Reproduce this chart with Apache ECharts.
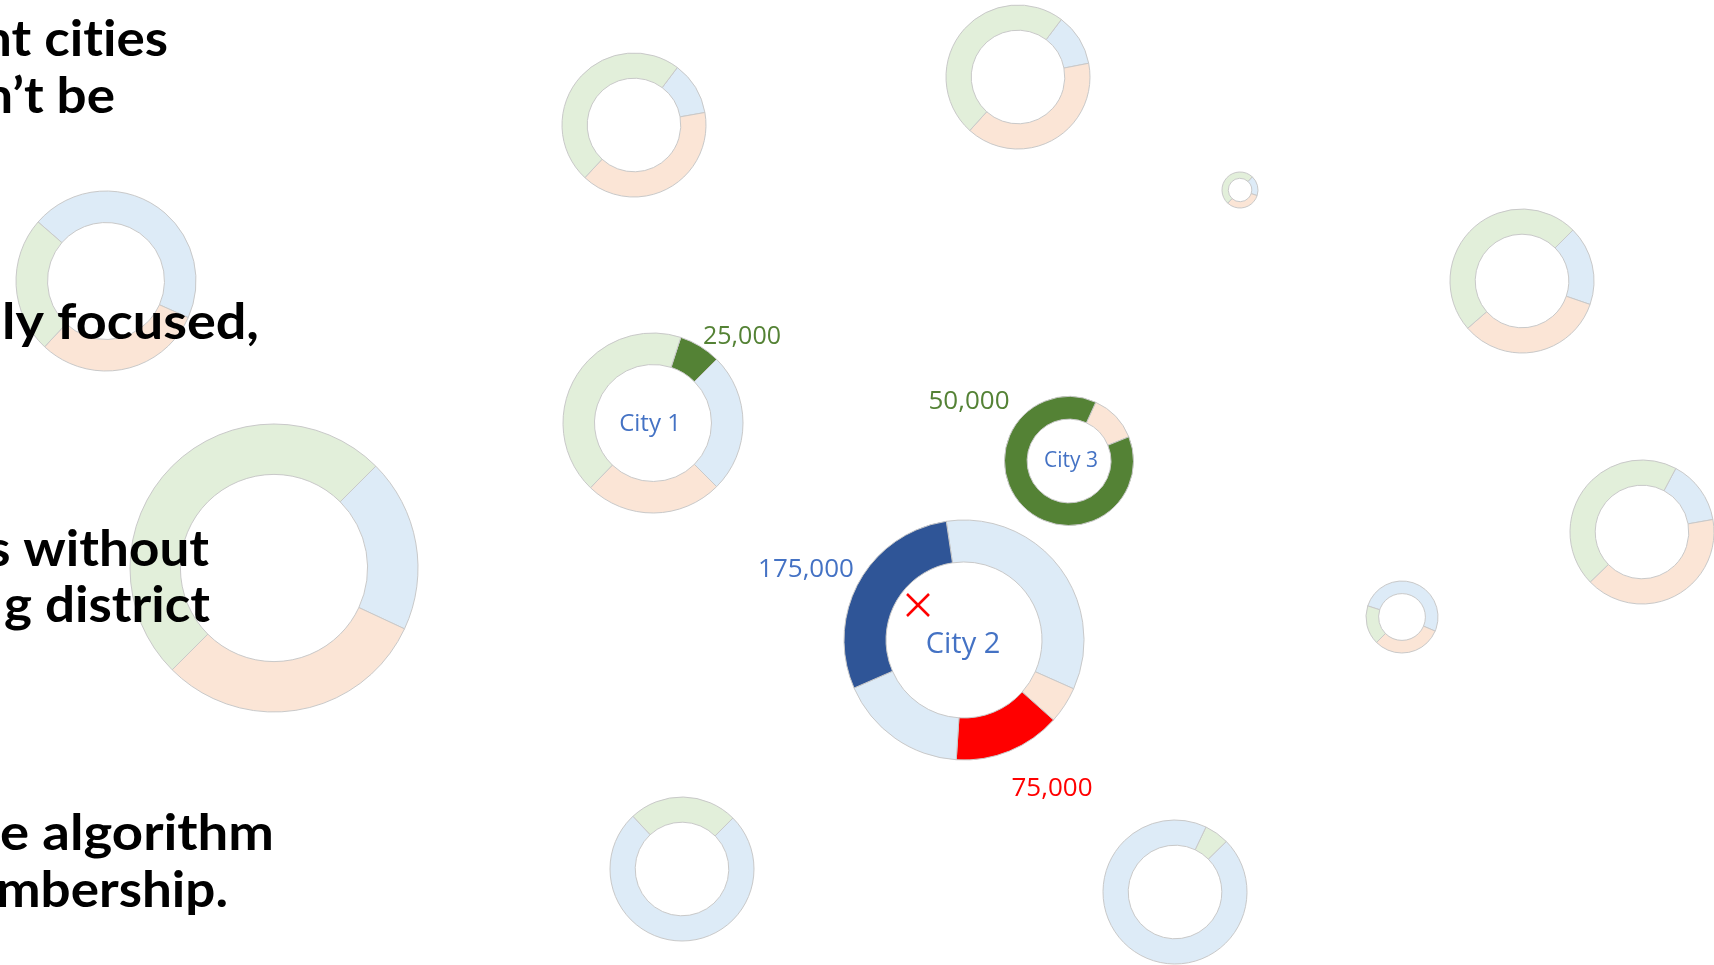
<!DOCTYPE html>
<html>
<head>
<meta charset="utf-8">
<script src="https://cdn.jsdelivr.net/npm/echarts@6/dist/echarts.min.js"></script>
<style>html,body{margin:0;padding:0;background:#fff;}#c{width:1714px;height:965px;}</style>
</head>
<body>
<div id="c"></div>
<script>
// ---- data ----
const COLORS = {
  lightBlue: '#DDEBF7', lightOrange: '#FBE5D6', lightGreen: '#E2EFDA',
  green: '#548235', blue: '#2F5597', red: '#FF0000'
};
// each donut: segment categories and their shares (degrees of the ring), clockwise
const ringACats = ['lightBlue', 'lightOrange', 'lightGreen'];
const ringAVals = [43, 143, 174];
const ringBCats = ['lightBlue', 'lightOrange', 'lightGreen'];
const ringBVals = [42, 143, 175];
const ringCCats = ['lightBlue', 'lightOrange', 'lightGreen'];
const ringCVals = [65, 115, 180];
const ringDCats = ['lightBlue', 'lightOrange', 'lightGreen'];
const ringDVals = [64, 120, 176];
const ringECats = ['lightBlue', 'lightOrange', 'lightGreen'];
const ringEVals = [52, 146, 162];
const ringFCats = ['lightBlue', 'lightOrange', 'lightGreen'];
const ringFVals = [185, 112, 63];
const ringGCats = ['lightGreen', 'lightBlue'];
const ringGVals = [20, 340];
const ringHCats = ['lightGreen', 'lightBlue'];
const ringHVals = [88, 272];
const ringICats = ['lightBlue', 'lightOrange', 'lightGreen'];
const ringIVals = [163, 109, 88];
const ringJCats = ['lightBlue', 'lightOrange', 'lightGreen'];
const ringJVals = [70, 110, 180];
const city1Cats = ['green', 'lightBlue', 'lightOrange', 'lightGreen'];
const city1Vals = [27, 90, 89, 154];
const city3Cats = ['lightOrange', 'green'];
const city3Vals = [43.5, 316.5];
const city2Cats = ['lightBlue', 'lightOrange', 'red', 'lightBlue', 'blue'];
const city2Vals = [122.5, 17.8, 51.9, 62.7, 105.1];

const cityNames = ['City 1', 'City 2', 'City 3'];
const valueLabels = ['25,000', '50,000', '175,000', '75,000'];
const textLines = ['nt cit\u200Cies', 'n\u2019t be', 'ly focused,', 's without', 'g district', 'e algorithm', 'mbership.'];

// ---- layout ----
const rings = [
  { cats: ringACats, vals: ringAVals, center: [634, 125], r: 72, start: 53 },
  { cats: ringBCats, vals: ringBVals, center: [1018, 77], r: 72, start: 53 },
  { cats: ringCCats, vals: ringCVals, center: [1240, 190], r: 18, start: 47 },
  { cats: ringDCats, vals: ringDVals, center: [1522, 281], r: 72, start: 45 },
  { cats: ringECats, vals: ringEVals, center: [1642, 532], r: 72, start: 62 },
  { cats: ringFCats, vals: ringFVals, center: [1402, 617], r: 36, start: 162 },
  { cats: ringGCats, vals: ringGVals, center: [1175, 892], r: 72, start: 64.5 },
  { cats: ringHCats, vals: ringHVals, center: [682, 869], r: 72, start: 133 },
  { cats: ringICats, vals: ringIVals, center: [106, 281], r: 90, start: 139 },
  { cats: ringJCats, vals: ringJVals, center: [274, 568], r: 144, start: 45 },
  { cats: city1Cats, vals: city1Vals, center: [653, 423], r: 90, start: 72 },
  { cats: city3Cats, vals: city3Vals, center: [1069, 461], r: 64.5, start: 65.5 },
  { cats: city2Cats, vals: city2Vals, center: [964, 640], r: 120, start: 98.5 }
];
const textPos = [[168, 40], [115, 97], [259, 323], [209, 550], [210, 606], [274, 834], [228, 891]];
const textScale = [1.06, 1.06, 1.08, 1.06, 1.06, 1.09, 1.06];

const series = rings.map(d => ({
  type: 'pie',
  center: d.center,
  radius: [d.r * 0.65, d.r],
  startAngle: d.start,
  clockwise: true,
  silent: true,
  animation: false,
  label: { show: false },
  labelLine: { show: false },
  itemStyle: { borderColor: '#C9C9C9', borderWidth: 1 },
  emphasis: { disabled: true },
  data: d.vals.map((v, i) => ({ value: v, itemStyle: { color: COLORS[d.cats[i]] } }))
}));

const LBL_FONT = '"Open Sans", "Noto Sans", sans-serif';
const graphic = [];
textLines.forEach((t, i) => {
  graphic.push({
    type: 'text', z: 100, x: textPos[i][0], y: textPos[i][1], scaleX: textScale[i],
    style: { text: t, fill: '#000', font: 'bold 50px Lato, "Open Sans", sans-serif', textAlign: 'right', textVerticalAlign: 'middle' }
  });
});
const labelSpecs = [
  { text: cityNames[0], x: 650, y: 424, size: 24, color: '#4472C4' },
  { text: cityNames[1], x: 963, y: 645, size: 29, color: '#4472C4' },
  { text: cityNames[2], x: 1071, y: 461, size: 21, color: '#4472C4' },
  { text: valueLabels[0], x: 742, y: 337, size: 25, color: '#548235' },
  { text: valueLabels[1], x: 969, y: 402, size: 26, color: '#548235' },
  { text: valueLabels[2], x: 806, y: 570, size: 26, color: '#4472C4' },
  { text: valueLabels[3], x: 1052, y: 789, size: 26, color: '#FF0000' }
];
labelSpecs.forEach(s => {
  graphic.push({
    type: 'text', z: 100, x: s.x, y: s.y,
    style: { text: s.text, fill: s.color, font: s.size + 'px ' + LBL_FONT, textAlign: 'center', textVerticalAlign: 'middle' }
  });
});
// red cross mark
graphic.push({ type: 'line', z: 100, shape: { x1: 907, y1: 594, x2: 929, y2: 616 }, style: { stroke: '#FF0000', lineWidth: 2.5 } });
graphic.push({ type: 'line', z: 100, shape: { x1: 929, y1: 594, x2: 907, y2: 616 }, style: { stroke: '#FF0000', lineWidth: 2.5 } });

const chart = echarts.init(document.getElementById('c'), null, { renderer: 'canvas' });
chart.setOption({ animation: false, backgroundColor: '#fff', series, graphic });
</script>
</body>
</html>
